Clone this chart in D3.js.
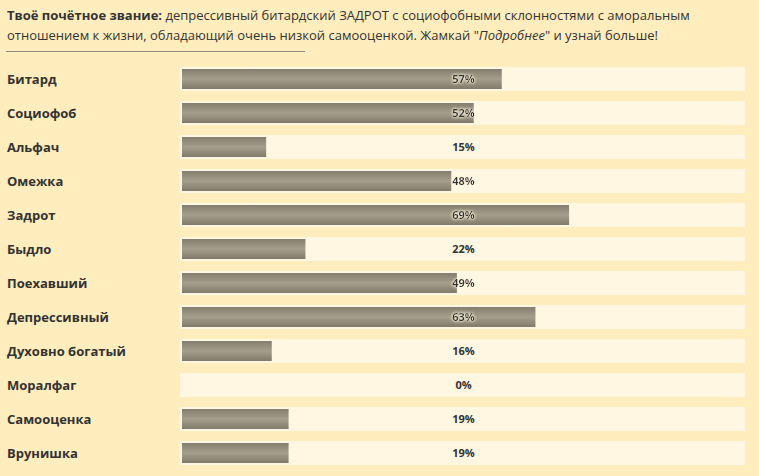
<!DOCTYPE html>
<html>
<head>
    <meta charset="utf-8">
    <title>Звание</title>
    <script src="https://cdn.jsdelivr.net/npm/d3@7/dist/d3.min.js"></script>
    <style>
        html, body { margin: 0; padding: 0; background: #ffedbd; }
        svg { display: block; }
        .hdr { font-family: "Open Sans", "Noto Sans", sans-serif; font-size: 13px; fill: #333; }
        .cat { font-family: "Open Sans", "Noto Sans", sans-serif; font-size: 13px; font-weight: bold; fill: #333; }
        .pct { font-family: "Open Sans", "Noto Sans", sans-serif; font-size: 11px; font-weight: bold; fill: #333; }
    </style>
</head>
<body>
    <svg width="759" height="476" id="mainsvg"></svg>
    <script>
        const categories = ['Битард', 'Социофоб', 'Альфач', 'Омежка', 'Задрот', 'Быдло',
            'Поехавший', 'Депрессивный', 'Духовно богатый', 'Моралфаг', 'Самооценка', 'Врунишка'];
        const values = [57, 52, 15, 48, 69, 22, 49, 63, 16, 0, 19, 19];
        const titleBold = 'Твоё почётное звание:';
        const titleLine1 = ' депрессивный битардский ЗАДРОТ с социофобными склонностями с аморальным';
        const titleLine2a = 'отношением к жизни, обладающий очень низкой самооценкой. Жамкай "';
        const titleItalic = 'Подробнее';
        const titleLine2b = '" и узнай больше!';

        const svg = d3.select('svg');

        // gradient for the filled part
        const defs = svg.append('defs');
        const grad = defs.append('linearGradient').attr('id', 'barGrad')
            .attr('x1', 0).attr('y1', 0).attr('x2', 0).attr('y2', 1);
        grad.append('stop').attr('offset', '0%').attr('stop-color', '#857e6f');
        grad.append('stop').attr('offset', '50%').attr('stop-color', '#a69e8b');
        grad.append('stop').attr('offset', '100%').attr('stop-color', '#817a6b');

        // light glow behind the percent labels
        const glow = defs.append('filter').attr('id', 'glow')
            .attr('x', '-30%').attr('y', '-50%').attr('width', '160%').attr('height', '200%');
        glow.append('feGaussianBlur').attr('in', 'SourceAlpha').attr('stdDeviation', 1.6).attr('result', 'b');
        glow.append('feFlood').attr('flood-color', '#fff8e0');
        glow.append('feComposite').attr('in2', 'b').attr('operator', 'in').attr('result', 's');
        const merge = glow.append('feMerge');
        merge.append('feMergeNode').attr('in', 's');
        merge.append('feMergeNode').attr('in', 's');
        merge.append('feMergeNode').attr('in', 'SourceGraphic');

        // header
        const t1 = svg.append('text').attr('class', 'hdr').attr('x', 7).attr('y', 20);
        t1.append('tspan').attr('font-weight', 'bold').text(titleBold);
        t1.append('tspan').text(titleLine1);
        const t2 = svg.append('text').attr('class', 'hdr').attr('x', 7).attr('y', 40);
        t2.append('tspan').text(titleLine2a);
        t2.append('tspan').attr('font-style', 'italic').text(titleItalic);
        t2.append('tspan').text(titleLine2b);
        svg.append('line').attr('x1', 6).attr('x2', 305).attr('y1', 51.5).attr('y2', 51.5)
            .attr('stroke', '#8f8b83').attr('stroke-width', 1);

        // scales
        const trackX = 180, trackW = 565, pad = 2;
        const yScale = d3.scaleBand().domain(categories).range([67, 465])
            .paddingInner(10 / 34).paddingOuter(0);
        const xScale = d3.scaleLinear().domain([0, 100]).range([trackX + pad, trackX + trackW - pad]);

        const rows = svg.append('g').selectAll('g').data(categories).join('g')
            .attr('transform', d => `translate(0, ${yScale(d)})`);

        rows.append('rect').attr('x', trackX).attr('y', 0)
            .attr('width', trackW).attr('height', yScale.bandwidth()).attr('fill', '#fff7e2');

        rows.append('rect').attr('x', xScale(0)).attr('y', pad)
            .attr('width', (d, i) => xScale(values[i]) - xScale(0))
            .attr('height', yScale.bandwidth() - 2 * pad).attr('fill', 'url(#barGrad)');

        rows.append('text').attr('class', 'cat').attr('x', 7).attr('y', yScale.bandwidth() / 2 + 4.5)
            .text(d => d);

        rows.append('text').attr('class', 'pct').attr('x', trackX + trackW / 2 + 1)
            .attr('y', yScale.bandwidth() / 2 + 4).attr('text-anchor', 'middle')
            .attr('filter', (d, i) => xScale(values[i]) > trackX + trackW / 2 - 15 ? 'url(#glow)' : null)
            .text((d, i) => values[i] + '%');
    </script>
</body>
</html>
